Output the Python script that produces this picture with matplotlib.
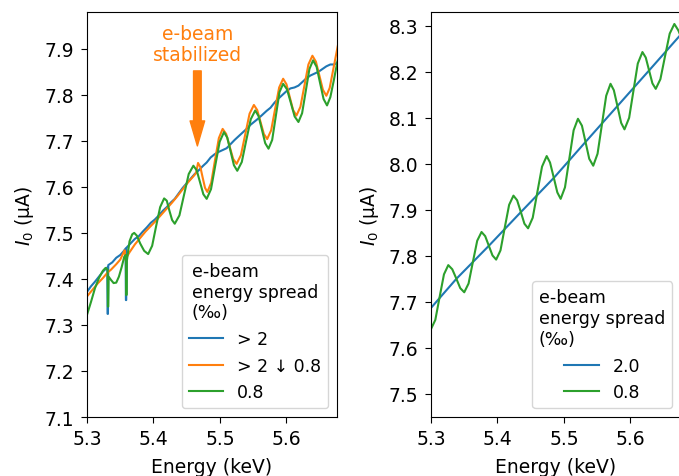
import matplotlib
matplotlib.use('Agg')
import matplotlib.pyplot as plt

# left panel: energy (keV) / I0 (uA)
e_blue_l = [5.300, 5.306, 5.312, 5.318, 5.324, 5.3305, 5.331, 5.3315, 5.332, 5.338,
            5.344, 5.350, 5.355, 5.358, 5.3585, 5.359, 5.3595, 5.366, 5.372, 5.378,
            5.384, 5.390, 5.396, 5.402, 5.408, 5.414, 5.420, 5.426, 5.432, 5.438,
            5.444, 5.450, 5.456, 5.462, 5.468, 5.474, 5.480, 5.486, 5.492, 5.498,
            5.504, 5.510, 5.516, 5.522, 5.528, 5.534, 5.540, 5.546, 5.552, 5.558,
            5.564, 5.570, 5.576, 5.582, 5.588, 5.594, 5.600, 5.606, 5.612, 5.618,
            5.624, 5.630, 5.636, 5.642, 5.648, 5.654, 5.660, 5.666, 5.672, 5.680]
i_blue_l = [7.372, 7.384, 7.394, 7.405, 7.416, 7.425, 7.324, 7.324, 7.430, 7.436,
            7.446, 7.452, 7.460, 7.466, 7.354, 7.354, 7.468, 7.478, 7.487, 7.493,
            7.503, 7.512, 7.522, 7.529, 7.538, 7.548, 7.556, 7.566, 7.574, 7.586,
            7.598, 7.608, 7.618, 7.628, 7.636, 7.645, 7.653, 7.664, 7.671, 7.676,
            7.680, 7.684, 7.693, 7.702, 7.710, 7.718, 7.726, 7.735, 7.742, 7.749,
            7.757, 7.765, 7.772, 7.783, 7.792, 7.800, 7.808, 7.814, 7.816, 7.820,
            7.828, 7.836, 7.842, 7.846, 7.850, 7.856, 7.862, 7.866, 7.866, 7.874]

e_orange_l = [5.300, 5.308, 5.316, 5.324, 5.331, 5.336, 5.344, 5.350, 5.3565, 5.357,
              5.3575, 5.364, 5.372, 5.380, 5.388, 5.396, 5.404, 5.412, 5.420, 5.428,
              5.436, 5.444, 5.452, 5.460, 5.464, 5.467, 5.4705, 5.474, 5.4775, 5.481,
              5.4868, 5.4925, 5.4983, 5.504, 5.5093, 5.5145, 5.5198, 5.525, 5.5315, 5.538,
              5.5445, 5.551, 5.556, 5.561, 5.566, 5.571, 5.577, 5.583, 5.589, 5.595,
              5.600, 5.605, 5.610, 5.615, 5.621, 5.627, 5.633, 5.639, 5.6443, 5.6495,
              5.6548, 5.660, 5.665, 5.671, 5.677, 5.683]
i_orange_l = [7.362, 7.376, 7.390, 7.402, 7.414, 7.420, 7.432, 7.442, 7.462, 7.462,
              7.442, 7.458, 7.475, 7.489, 7.503, 7.515, 7.527, 7.540, 7.553, 7.566,
              7.580, 7.595, 7.610, 7.623, 7.630, 7.652, 7.643, 7.620, 7.598, 7.589,
              7.609, 7.658, 7.706, 7.726, 7.715, 7.688, 7.661, 7.650, 7.669, 7.714,
              7.759, 7.778, 7.767, 7.741, 7.715, 7.704, 7.723, 7.770, 7.816, 7.835,
              7.823, 7.795, 7.767, 7.755, 7.774, 7.820, 7.866, 7.885, 7.872, 7.842,
              7.811, 7.798, 7.815, 7.860, 7.905, 7.945]

e_green_l = [5.300, 5.306, 5.312, 5.318, 5.324, 5.328, 5.331, 5.3315, 5.332, 5.3325,
             5.336, 5.340, 5.344, 5.348, 5.352, 5.356, 5.3585, 5.359, 5.3595, 5.360,
             5.364, 5.368, 5.371, 5.375, 5.380, 5.386, 5.392, 5.398, 5.404, 5.410,
             5.416, 5.420, 5.424, 5.428, 5.432, 5.439, 5.446, 5.453, 5.460, 5.465,
             5.470, 5.475, 5.480, 5.4865, 5.493, 5.4995, 5.506, 5.511, 5.516, 5.521,
             5.526, 5.5328, 5.5395, 5.5463, 5.553, 5.558, 5.563, 5.568, 5.573, 5.5785,
             5.584, 5.5895, 5.595, 5.6008, 5.6065, 5.6123, 5.618, 5.6235, 5.629, 5.6345,
             5.640, 5.6453, 5.6505, 5.6558, 5.661, 5.666, 5.671, 5.677, 5.683]
i_green_l = [7.322, 7.350, 7.380, 7.402, 7.418, 7.424, 7.420, 7.340, 7.340, 7.405,
             7.398, 7.391, 7.392, 7.405, 7.425, 7.448, 7.452, 7.365, 7.365, 7.440,
             7.482, 7.497, 7.500, 7.494, 7.477, 7.461, 7.454, 7.472, 7.515, 7.556,
             7.575, 7.570, 7.548, 7.528, 7.520, 7.538, 7.583, 7.628, 7.646, 7.636,
             7.610, 7.584, 7.574, 7.595, 7.647, 7.698, 7.719, 7.707, 7.677, 7.647,
             7.635, 7.654, 7.701, 7.747, 7.766, 7.754, 7.725, 7.695, 7.683, 7.702,
             7.754, 7.806, 7.824, 7.812, 7.783, 7.753, 7.741, 7.760, 7.808, 7.856,
             7.875, 7.861, 7.826, 7.791, 7.777, 7.795, 7.830, 7.875, 7.915]

# right panel
e_blue_r = [5.300, 5.338, 5.387, 5.435, 5.485, 5.532, 5.580, 5.628, 5.680]
i_blue_r = [7.687, 7.750, 7.822, 7.895, 7.970, 8.047, 8.125, 8.203, 8.288]

e_green_r = [5.300, 5.3065, 5.313, 5.3195, 5.326, 5.332, 5.338, 5.344, 5.350, 5.3565,
             5.363, 5.3695, 5.376, 5.3815, 5.387, 5.3925, 5.398, 5.4045, 5.411, 5.4175,
             5.424, 5.4295, 5.435, 5.4405, 5.446, 5.453, 5.460, 5.467, 5.474, 5.479,
             5.4845, 5.490, 5.495, 5.5015, 5.508, 5.5145, 5.521, 5.527, 5.5325, 5.538,
             5.544, 5.5505, 5.557, 5.5635, 5.570, 5.575, 5.5805, 5.586, 5.591, 5.598,
             5.6045, 5.611, 5.618, 5.623, 5.628, 5.633, 5.638, 5.645, 5.652, 5.659,
             5.666, 5.672, 5.680]
i_green_r = [7.641, 7.661, 7.711, 7.760, 7.780, 7.771, 7.751, 7.730, 7.721, 7.740,
             7.787, 7.833, 7.852, 7.843, 7.822, 7.801, 7.792, 7.812, 7.862, 7.911,
             7.931, 7.921, 7.896, 7.870, 7.860, 7.883, 7.939, 7.994, 8.017, 8.003,
             7.971, 7.938, 7.924, 7.949, 8.011, 8.073, 8.098, 8.083, 8.047, 8.011,
             7.996, 8.022, 8.085, 8.148, 8.174, 8.160, 8.125, 8.089, 8.075, 8.100,
             8.159, 8.218, 8.243, 8.231, 8.203, 8.175, 8.163, 8.184, 8.234, 8.283,
             8.304, 8.290, 8.262]

labels_l = ['> 2', '> 2 \u2193 0.8', '0.8']
labels_r = ['2.0', '0.8']
legend_title = 'e-beam\nenergy spread\n(\u2030)'

fs = 13.5
lfs = 12.5
plt.rcParams['font.size'] = fs
plt.rcParams['xtick.major.size'] = 4.5
plt.rcParams['ytick.major.size'] = 4.5
plt.rcParams['xtick.major.pad'] = 4.5
plt.rcParams['ytick.major.pad'] = 4.5
plt.rcParams['axes.labelpad'] = 6

fig = plt.figure(figsize=(6.79, 4.77), dpi=100)
W, H = 679, 477
ax1 = fig.add_axes([87 / W, 59 / H, 250 / W, 405 / H])
ax2 = fig.add_axes([431 / W, 59 / H, 250 / W, 405 / H])

ax1.plot(e_blue_l, i_blue_l, color='C0', lw=1.5, label=labels_l[0])
ax1.plot(e_orange_l, i_orange_l, color='C1', lw=1.5, label=labels_l[1])
ax1.plot(e_green_l, i_green_l, color='C2', lw=1.5, label=labels_l[2])
ax1.set_xlim(5.3, 5.676)
ax1.set_ylim(7.1, 7.98)
ax1.set_xticks([5.3, 5.4, 5.5, 5.6])
ax1.set_yticks([7.1, 7.2, 7.3, 7.4, 7.5, 7.6, 7.7, 7.8, 7.9])
ax1.set_xlabel('Energy (keV)')
ax1.set_ylabel(r'$I_0$ (µA)')
ax1.text(5.466, 7.91, 'e-beam\nstabilized', color='C1', ha='center', va='center',
         linespacing=1.1)
ax1.annotate('', xy=(5.466, 7.689), xytext=(5.466, 7.852),
             arrowprops=dict(facecolor='C1', edgecolor='C1', width=5.5,
                             headwidth=10.5, headlength=18, shrink=0))
leg1 = ax1.legend(title=legend_title, loc='lower right', fontsize=lfs, title_fontsize=lfs)
leg1.get_title().set_multialignment('left')

ax2.plot(e_blue_r, i_blue_r, color='C0', lw=1.5, label=labels_r[0])
ax2.plot(e_green_r, i_green_r, color='C2', lw=1.5, label=labels_r[1])
ax2.set_xlim(5.3, 5.676)
ax2.set_ylim(7.45, 8.33)
ax2.set_xticks([5.3, 5.4, 5.5, 5.6])
ax2.set_yticks([7.5, 7.6, 7.7, 7.8, 7.9, 8.0, 8.1, 8.2, 8.3])
ax2.set_xlabel('Energy (keV)')
ax2.set_ylabel(r'$I_0$ (µA)')
leg2 = ax2.legend(title=legend_title, loc='lower right', fontsize=lfs, title_fontsize=lfs)
leg2.get_title().set_multialignment('left')

fig.savefig('out.png', dpi=100)
